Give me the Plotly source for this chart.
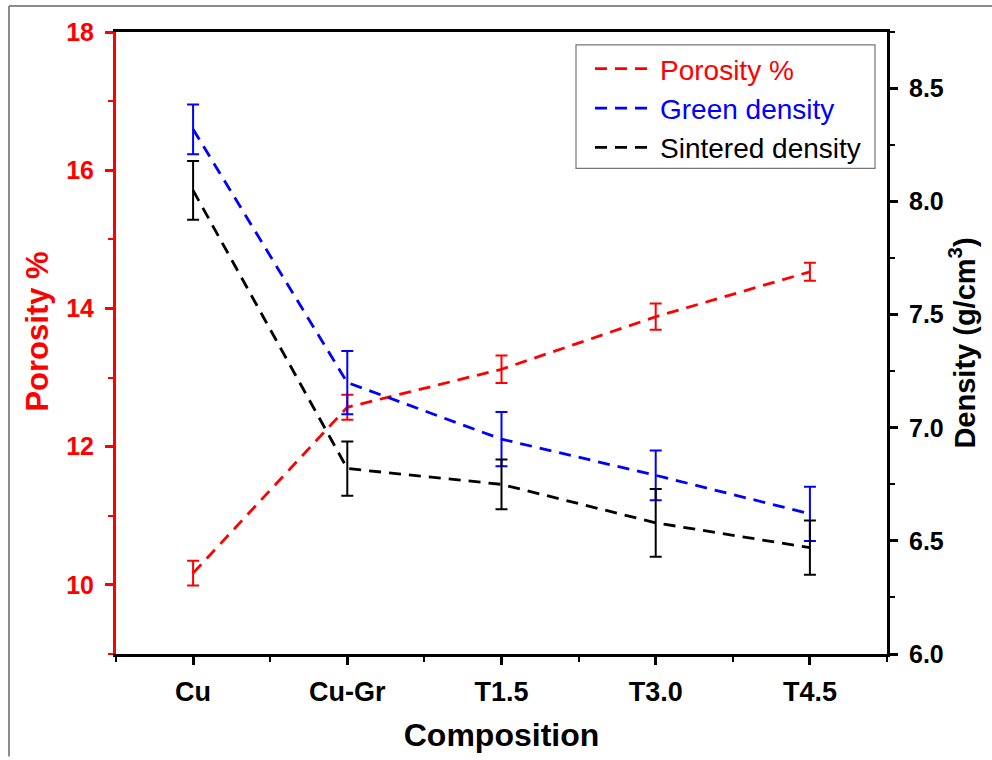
import plotly.graph_objects as go

categories = ["Cu", "Cu-Gr", "T1.5", "T3.0", "T4.5"]
porosity = [10.17, 12.57, 13.12, 13.88, 14.53]
porosity_err = [0.18, 0.18, 0.20, 0.19, 0.13]
green_density = [8.32, 7.20, 6.95, 6.79, 6.62]
green_err = [0.11, 0.14, 0.12, 0.11, 0.12]
sintered_density = [8.05, 6.82, 6.75, 6.58, 6.47]
sintered_err = [0.13, 0.12, 0.11, 0.15, 0.12]
left_ticks = [10, 12, 14, 16, 18]
right_ticks = [6.0, 6.5, 7.0, 7.5, 8.0, 8.5]

xpos = list(range(len(categories)))

W, H = 992, 760
L, R, T, B = 116, 887, 32, 657

def px(x):
    return (x - L) / (R - L)

def py(y):
    return (B - y) / (B - T)

fig = go.Figure()

def add(name, color, y, err, yaxis):
    fig.add_trace(go.Scatter(
        x=xpos, y=y, mode="lines", yaxis=yaxis,
        name=f"<span style='color:{color}'>{name}</span>",
        line=dict(color=color, width=2.8, dash="12px,8px"),
        error_y=dict(type="data", array=err, visible=True, color=color,
                     thickness=2, width=6),
    ))

add("Porosity %", "#ff0000", porosity, porosity_err, "y")
add("Green density", "#0000ff", green_density, green_err, "y2")
add("Sintered density", "#000000", sintered_density, sintered_err, "y2")

sans = "Liberation Sans, Arial, sans-serif"

fig.update_layout(
    width=W, height=H,
    margin=dict(l=L, r=W - R, t=T, b=H - B),
    paper_bgcolor="white", plot_bgcolor="white",
    showlegend=True,
    legend=dict(x=px(590), y=py(44), xanchor="left", yanchor="top",
                borderwidth=0, bgcolor="rgba(0,0,0,0)",
                font=dict(family=sans, size=28, color="black"),
                tracegroupgap=0, itemwidth=60),
    xaxis=dict(
        range=[-0.5, 4.5], tickmode="array", tickvals=xpos, ticktext=categories,
        showline=True, linecolor="black", linewidth=3, mirror=True,
        ticks="outside", ticklen=8, tickwidth=3, tickcolor="black",
        minor=dict(ticks="outside", ticklen=5, tickwidth=2, tickcolor="black",
                   tick0=-0.5, dtick=0.5),
        showgrid=False, zeroline=False, ticklabelstandoff=4,
        tickfont=dict(family=sans, size=27, color="black", weight="bold"),
        title=dict(text="Composition", standoff=18,
                   font=dict(family=sans, size=32, color="black", weight="bold")),
    ),
    yaxis=dict(
        range=[9, 18], tickvals=left_ticks,
        showline=True, linecolor="#ff0000", linewidth=3,
        ticks="outside", ticklen=8, tickwidth=3, tickcolor="#ff0000",
        minor=dict(ticks="outside", ticklen=5, tickwidth=2, tickcolor="#ff0000",
                   tick0=9, dtick=1),
        showgrid=False, zeroline=False, ticklabelstandoff=6,
        tickfont=dict(family=sans, size=25, color="#ff0000", weight="bold"),
    ),
    yaxis2=dict(
        range=[6, 8.75], overlaying="y", side="right",
        tickvals=right_ticks, tickformat=".1f",
        showline=True, linecolor="black", linewidth=3,
        ticks="outside", ticklen=8, tickwidth=3, tickcolor="black",
        minor=dict(ticks="outside", ticklen=5, tickwidth=2, tickcolor="black",
                   tick0=6, dtick=0.25),
        showgrid=False, zeroline=False, ticklabelstandoff=6,
        tickfont=dict(family=sans, size=25, color="black", weight="bold"),
        title=dict(text="Density (g/cm<sup>3</sup>)", standoff=12,
                   font=dict(family=sans, size=29, color="black", weight="bold")),
    ),
    annotations=[
        dict(text="Porosity %", xref="paper", yref="paper", x=px(38), y=py(333),
             xanchor="center", yanchor="middle", textangle=-90, showarrow=False,
             font=dict(family=sans, size=31, color="#ff0000", weight="bold")),
    ],
    shapes=[
        dict(type="rect", xref="paper", yref="paper", x0=px(576), x1=px(875),
             y0=py(169), y1=py(45), line=dict(color="#777777", width=1.2)),
        dict(type="line", xref="paper", yref="paper", x0=px(9), x1=px(992),
             y0=py(6), y1=py(6), line=dict(color="#666666", width=1.5)),
        dict(type="line", xref="paper", yref="paper", x0=px(9), x1=px(9),
             y0=py(6), y1=py(760), line=dict(color="#666666", width=1.5)),
    ],
)

fig.write_html("out.html", config={"displayModeBar": False},
               post_script="document.body.style.margin='0';")
